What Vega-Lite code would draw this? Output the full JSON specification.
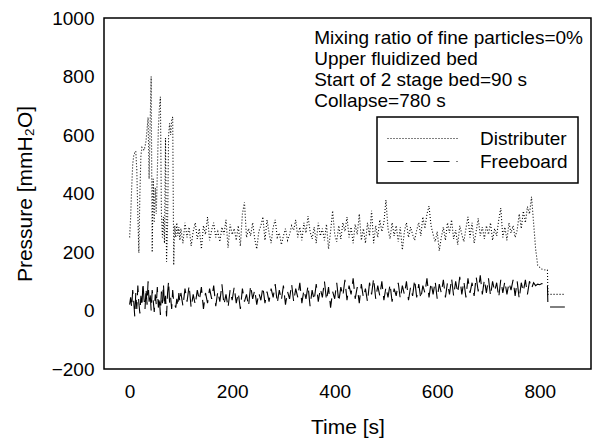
{
  "$schema": "https://vega.github.io/schema/vega-lite/v6.json",
  "autosize": {"type": "none"},
  "width": 487,
  "height": 351,
  "padding": {"left": 104, "top": 18, "right": 11, "bottom": 73},
  "data": {
    "values": [
      {"t":0,"Distributer":250,"Freeboard":20},{"t":2,"Distributer":320,"Freeboard":45},{"t":4,"Distributer":420,"Freeboard":10},{"t":6,"Distributer":500,"Freeboard":70},{"t":8,"Distributer":530,"Freeboard":30},
      {"t":10,"Distributer":540,"Freeboard":-20},{"t":12,"Distributer":545,"Freeboard":60},{"t":14,"Distributer":480,"Freeboard":5},{"t":16,"Distributer":330,"Freeboard":85},{"t":18,"Distributer":197,"Freeboard":25},
      {"t":20,"Distributer":400,"Freeboard":-10},{"t":22,"Distributer":530,"Freeboard":50},{"t":24,"Distributer":558,"Freeboard":15},{"t":26,"Distributer":555,"Freeboard":95},{"t":28,"Distributer":548,"Freeboard":40},
      {"t":30,"Distributer":560,"Freeboard":5},{"t":32,"Distributer":580,"Freeboard":75},{"t":34,"Distributer":620,"Freeboard":20},{"t":36,"Distributer":660,"Freeboard":100},{"t":38,"Distributer":450,"Freeboard":30},
      {"t":40,"Distributer":640,"Freeboard":60},{"t":42,"Distributer":800,"Freeboard":0},{"t":44,"Distributer":199,"Freeboard":70},{"t":46,"Distributer":450,"Freeboard":35},{"t":48,"Distributer":300,"Freeboard":-5},
      {"t":50,"Distributer":420,"Freeboard":55},{"t":52,"Distributer":330,"Freeboard":20},{"t":54,"Distributer":470,"Freeboard":80},{"t":56,"Distributer":620,"Freeboard":10},{"t":58,"Distributer":690,"Freeboard":45},
      {"t":60,"Distributer":731,"Freeboard":-15},{"t":62,"Distributer":330,"Freeboard":65},{"t":64,"Distributer":250,"Freeboard":25},{"t":66,"Distributer":320,"Freeboard":90},{"t":68,"Distributer":230,"Freeboard":15},
      {"t":70,"Distributer":590,"Freeboard":50},{"t":72,"Distributer":167,"Freeboard":-20},{"t":74,"Distributer":290,"Freeboard":60},{"t":76,"Distributer":600,"Freeboard":100},{"t":78,"Distributer":640,"Freeboard":25},
      {"t":80,"Distributer":600,"Freeboard":45},{"t":82,"Distributer":650,"Freeboard":5},{"t":84,"Distributer":662,"Freeboard":70},{"t":86,"Distributer":155,"Freeboard":30},{"t":88,"Distributer":290,"Freeboard":20},
      {"t":90,"Distributer":250,"Freeboard":10},{"t":92,"Distributer":300,"Freeboard":40},{"t":94,"Distributer":255,"Freeboard":15},{"t":96,"Distributer":285,"Freeboard":60},{"t":98,"Distributer":240,"Freeboard":30},
      {"t":100,"Distributer":280,"Freeboard":60},{"t":104,"Distributer":230,"Freeboard":15},{"t":108,"Distributer":300,"Freeboard":75},{"t":112,"Distributer":250,"Freeboard":30},{"t":116,"Distributer":285,"Freeboard":85},
      {"t":120,"Distributer":220,"Freeboard":10},{"t":124,"Distributer":270,"Freeboard":55},{"t":128,"Distributer":300,"Freeboard":20},{"t":132,"Distributer":245,"Freeboard":70},{"t":136,"Distributer":280,"Freeboard":35},
      {"t":140,"Distributer":210,"Freeboard":80},{"t":144,"Distributer":290,"Freeboard":5},{"t":148,"Distributer":260,"Freeboard":60},{"t":152,"Distributer":320,"Freeboard":25},{"t":156,"Distributer":240,"Freeboard":75},
      {"t":160,"Distributer":275,"Freeboard":40},{"t":164,"Distributer":300,"Freeboard":85},{"t":168,"Distributer":250,"Freeboard":15},{"t":172,"Distributer":270,"Freeboard":65},{"t":176,"Distributer":235,"Freeboard":30},
      {"t":180,"Distributer":285,"Freeboard":90},{"t":184,"Distributer":260,"Freeboard":20},{"t":188,"Distributer":310,"Freeboard":55},{"t":192,"Distributer":215,"Freeboard":10},{"t":196,"Distributer":295,"Freeboard":70},
      {"t":200,"Distributer":260,"Freeboard":35},{"t":204,"Distributer":280,"Freeboard":80},{"t":208,"Distributer":240,"Freeboard":25},{"t":212,"Distributer":290,"Freeboard":60},{"t":216,"Distributer":220,"Freeboard":5},
      {"t":220,"Distributer":330,"Freeboard":75},{"t":224,"Distributer":370,"Freeboard":30},{"t":228,"Distributer":250,"Freeboard":55},{"t":232,"Distributer":280,"Freeboard":15},{"t":236,"Distributer":255,"Freeboard":85},
      {"t":240,"Distributer":300,"Freeboard":40},{"t":244,"Distributer":245,"Freeboard":70},{"t":248,"Distributer":210,"Freeboard":20},{"t":252,"Distributer":270,"Freeboard":60},{"t":256,"Distributer":290,"Freeboard":35},
      {"t":260,"Distributer":320,"Freeboard":80},{"t":264,"Distributer":240,"Freeboard":25},{"t":268,"Distributer":310,"Freeboard":65},{"t":272,"Distributer":265,"Freeboard":30},{"t":276,"Distributer":230,"Freeboard":75},
      {"t":280,"Distributer":285,"Freeboard":45},{"t":284,"Distributer":310,"Freeboard":90},{"t":288,"Distributer":250,"Freeboard":25},{"t":292,"Distributer":265,"Freeboard":70},{"t":296,"Distributer":225,"Freeboard":35},
      {"t":300,"Distributer":255,"Freeboard":85},{"t":304,"Distributer":280,"Freeboard":20},{"t":308,"Distributer":240,"Freeboard":65},{"t":312,"Distributer":260,"Freeboard":40},{"t":316,"Distributer":290,"Freeboard":90},
      {"t":320,"Distributer":275,"Freeboard":30},{"t":324,"Distributer":310,"Freeboard":75},{"t":328,"Distributer":250,"Freeboard":45},{"t":332,"Distributer":285,"Freeboard":95},{"t":336,"Distributer":240,"Freeboard":25},
      {"t":340,"Distributer":300,"Freeboard":70},{"t":344,"Distributer":265,"Freeboard":40},{"t":348,"Distributer":323,"Freeboard":85},{"t":352,"Distributer":270,"Freeboard":15},{"t":356,"Distributer":245,"Freeboard":70},
      {"t":360,"Distributer":285,"Freeboard":35},{"t":364,"Distributer":230,"Freeboard":90},{"t":368,"Distributer":300,"Freeboard":30},{"t":372,"Distributer":255,"Freeboard":75},{"t":376,"Distributer":280,"Freeboard":45},
      {"t":380,"Distributer":240,"Freeboard":100},{"t":384,"Distributer":295,"Freeboard":35},{"t":388,"Distributer":210,"Freeboard":80},{"t":392,"Distributer":270,"Freeboard":10},{"t":396,"Distributer":341,"Freeboard":65},
      {"t":400,"Distributer":260,"Freeboard":40},{"t":404,"Distributer":235,"Freeboard":95},{"t":408,"Distributer":290,"Freeboard":30},{"t":412,"Distributer":245,"Freeboard":80},{"t":416,"Distributer":300,"Freeboard":50},
      {"t":420,"Distributer":270,"Freeboard":105},{"t":424,"Distributer":320,"Freeboard":35},{"t":428,"Distributer":250,"Freeboard":85},{"t":432,"Distributer":285,"Freeboard":55},{"t":436,"Distributer":230,"Freeboard":110},
      {"t":440,"Distributer":295,"Freeboard":40},{"t":444,"Distributer":260,"Freeboard":80},{"t":448,"Distributer":330,"Freeboard":25},{"t":452,"Distributer":240,"Freeboard":90},{"t":456,"Distributer":280,"Freeboard":45},
      {"t":460,"Distributer":230,"Freeboard":75},{"t":464,"Distributer":300,"Freeboard":30},{"t":468,"Distributer":255,"Freeboard":95},{"t":472,"Distributer":341,"Freeboard":55},{"t":476,"Distributer":230,"Freeboard":110},
      {"t":480,"Distributer":290,"Freeboard":40},{"t":484,"Distributer":250,"Freeboard":85},{"t":488,"Distributer":310,"Freeboard":50},{"t":492,"Distributer":270,"Freeboard":100},{"t":496,"Distributer":300,"Freeboard":35},
      {"t":500,"Distributer":378,"Freeboard":80},{"t":504,"Distributer":280,"Freeboard":45},{"t":508,"Distributer":245,"Freeboard":90},{"t":512,"Distributer":300,"Freeboard":30},{"t":516,"Distributer":255,"Freeboard":75},
      {"t":520,"Distributer":290,"Freeboard":50},{"t":524,"Distributer":235,"Freeboard":95},{"t":528,"Distributer":285,"Freeboard":40},{"t":532,"Distributer":207,"Freeboard":85},{"t":536,"Distributer":270,"Freeboard":55},
      {"t":540,"Distributer":300,"Freeboard":100},{"t":544,"Distributer":250,"Freeboard":35},{"t":548,"Distributer":285,"Freeboard":80},{"t":552,"Distributer":260,"Freeboard":50},{"t":556,"Distributer":240,"Freeboard":105},
      {"t":560,"Distributer":275,"Freeboard":45},{"t":564,"Distributer":300,"Freeboard":90},{"t":568,"Distributer":255,"Freeboard":40},{"t":572,"Distributer":320,"Freeboard":85},{"t":576,"Distributer":280,"Freeboard":60},
      {"t":580,"Distributer":330,"Freeboard":110},{"t":584,"Distributer":357,"Freeboard":45},{"t":588,"Distributer":290,"Freeboard":95},{"t":592,"Distributer":260,"Freeboard":55},{"t":596,"Distributer":235,"Freeboard":100},
      {"t":600,"Distributer":270,"Freeboard":40},{"t":604,"Distributer":204,"Freeboard":90},{"t":608,"Distributer":250,"Freeboard":60},{"t":612,"Distributer":285,"Freeboard":105},{"t":616,"Distributer":240,"Freeboard":45},
      {"t":620,"Distributer":300,"Freeboard":95},{"t":624,"Distributer":265,"Freeboard":55},{"t":628,"Distributer":310,"Freeboard":110},{"t":632,"Distributer":245,"Freeboard":50},{"t":636,"Distributer":275,"Freeboard":100},
      {"t":640,"Distributer":225,"Freeboard":60},{"t":644,"Distributer":290,"Freeboard":115},{"t":648,"Distributer":260,"Freeboard":55},{"t":652,"Distributer":235,"Freeboard":100},{"t":656,"Distributer":280,"Freeboard":45},
      {"t":660,"Distributer":320,"Freeboard":110},{"t":664,"Distributer":250,"Freeboard":60},{"t":668,"Distributer":300,"Freeboard":95},{"t":672,"Distributer":230,"Freeboard":50},{"t":676,"Distributer":270,"Freeboard":115},
      {"t":680,"Distributer":315,"Freeboard":65},{"t":684,"Distributer":255,"Freeboard":120},{"t":688,"Distributer":285,"Freeboard":55},{"t":692,"Distributer":245,"Freeboard":105},{"t":696,"Distributer":290,"Freeboard":60},
      {"t":700,"Distributer":260,"Freeboard":110},{"t":704,"Distributer":300,"Freeboard":50},{"t":708,"Distributer":240,"Freeboard":100},{"t":712,"Distributer":280,"Freeboard":65},{"t":716,"Distributer":255,"Freeboard":95},
      {"t":720,"Distributer":310,"Freeboard":45},{"t":724,"Distributer":350,"Freeboard":105},{"t":728,"Distributer":250,"Freeboard":60},{"t":732,"Distributer":285,"Freeboard":100},{"t":736,"Distributer":240,"Freeboard":55},
      {"t":740,"Distributer":300,"Freeboard":95},{"t":744,"Distributer":265,"Freeboard":70},{"t":748,"Distributer":290,"Freeboard":105},{"t":752,"Distributer":250,"Freeboard":50},{"t":756,"Distributer":275,"Freeboard":100},
      {"t":760,"Distributer":330,"Freeboard":40},{"t":764,"Distributer":280,"Freeboard":95},{"t":768,"Distributer":340,"Freeboard":65},{"t":772,"Distributer":300,"Freeboard":105},{"t":776,"Distributer":355,"Freeboard":55},
      {"t":780,"Distributer":330,"Freeboard":100},{"t":784,"Distributer":389,"Freeboard":75},{"t":788,"Distributer":300,"Freeboard":95},{"t":792,"Distributer":210,"Freeboard":85},{"t":796,"Distributer":155,"Freeboard":90},
      {"t":800,"Distributer":148,"Freeboard":88},{"t":804,"Distributer":142,"Freeboard":92},{"t":808,"Distributer":140,"Freeboard":90},{"t":812,"Distributer":138,"Freeboard":92},{"t":815,"Distributer":138,"Freeboard":90},
      {"t":816,"Distributer":55,"Freeboard":12},{"t":849,"Distributer":55,"Freeboard":12}
    ]
  },
  "transform": [{"fold": ["Distributer", "Freeboard"], "as": ["series", "p"]}],
  "layer": [
    {
      "mark": {"type": "line", "color": "black", "strokeWidth": 1.1},
      "encoding": {
        "x": {"field": "t", "type": "quantitative",
              "scale": {"domain": [-50, 900], "nice": false},
              "axis": {"values": [0, 200, 400, 600, 800], "title": "Time [s]", "ticks": false, "domain": false, "labelPadding": 13, "titlePadding": 15}},
        "y": {"field": "p", "type": "quantitative",
              "scale": {"domain": [-200, 1000], "nice": false},
              "axis": {"values": [-200, 0, 200, 400, 600, 800, 1000], "format": "d", "title": "Pressure [mmH₂O]", "ticks": false, "domain": false, "labelPadding": 10, "titlePadding": 16}},
        "strokeDash": {"field": "series", "type": "nominal",
              "scale": {"domain": ["Distributer", "Freeboard"], "range": [[1, 2], [16, 7]]},
              "legend": {"title": null}}
      }
    },
    {
      "data": {"values": [{"note": "annotation"}]},
      "mark": {"type": "text", "align": "left", "baseline": "top", "fontSize": 19, "font": "Liberation Sans", "lineHeight": 21, "color": "black",
               "text": ["Mixing ratio of fine particles=0%", "Upper fluidized bed", "Start of 2 stage bed=90 s", "Collapse=780 s"]},
      "encoding": {
        "x": {"datum": 360, "type": "quantitative"},
        "y": {"datum": 963, "type": "quantitative"}
      }
    }
  ],
  "config": {
    "view": {"stroke": "black", "strokeWidth": 1.5},
    "axis": {"grid": false,
             "labelFont": "Liberation Sans", "labelFontSize": 19, "labelColor": "black",
             "titleFont": "Liberation Sans", "titleFontSize": 21, "titleFontWeight": "normal", "titleColor": "black"},
    "legend": {"orient": "none", "legendX": 273, "legendY": 99, "strokeColor": "black", "strokeWidth": 1.5, "fillColor": "white", "padding": 10,
               "symbolType": "stroke", "symbolSize": 4900, "symbolStrokeWidth": 1, "symbolStrokeColor": "black", "clipHeight": 23,
               "labelOffset": 22, "labelFont": "Liberation Sans", "labelFontSize": 19, "labelColor": "black", "rowPadding": 0}
  }
}
